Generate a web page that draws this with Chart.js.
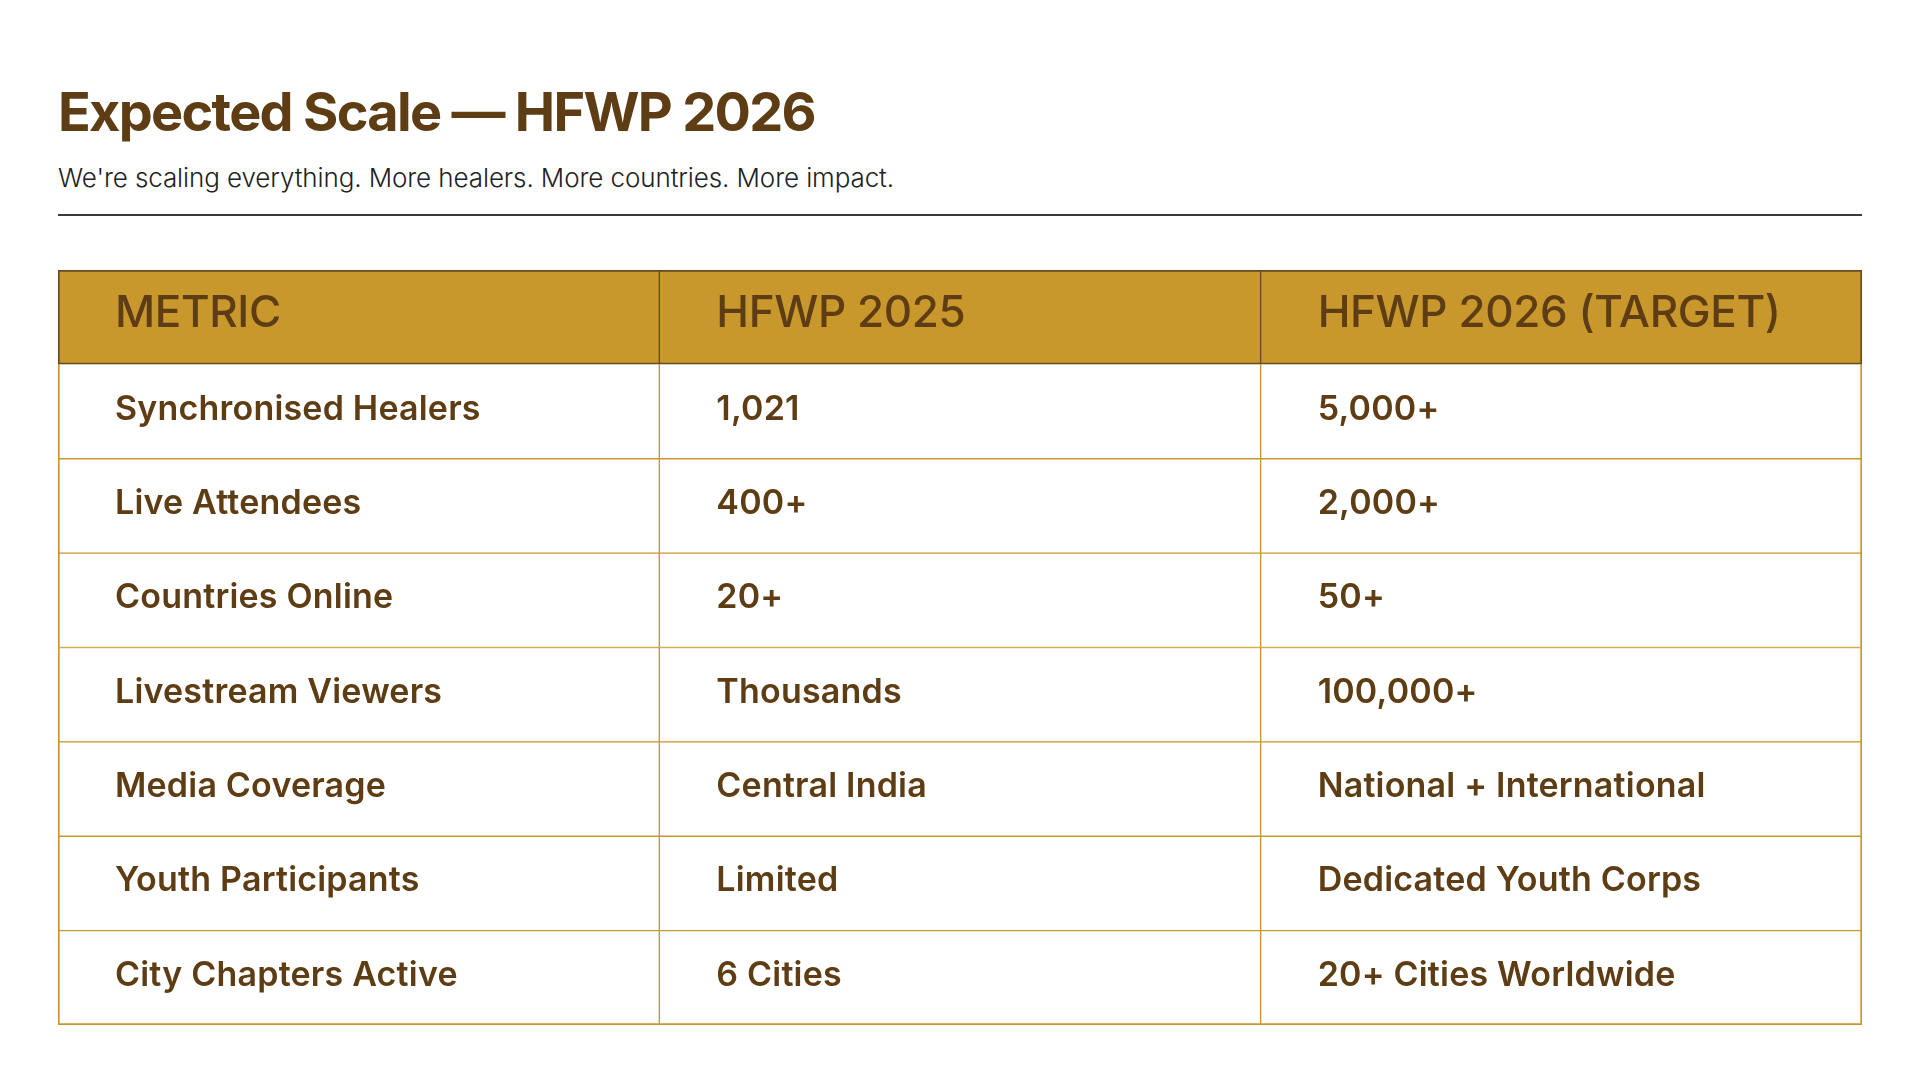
<!DOCTYPE html>
<html>
<head>
<meta charset="utf-8">
<script src="https://cdn.jsdelivr.net/npm/chart.js@4.4.1/dist/chart.umd.min.js"></script>
<style>
  html, body { margin: 0; padding: 0; background: #fff; }
  body { width: 1921px; height: 1080px; position: relative; overflow: hidden; font-family: Inter, "Noto Sans", sans-serif; }
  h1 { position: absolute; left: 58px; top: 85px; margin: 0; font-size: 54px; line-height: 54px; font-weight: 700; color: #5E3D14; letter-spacing: -1.7px; }
  .sub { position: absolute; left: 58px; top: 165px; margin: 0; font-size: 26px; line-height: 26px; font-weight: 300; color: #222; letter-spacing: -0.1px; }
  .rule { position: absolute; left: 58px; top: 214px; width: 1804px; height: 1.5px; background: #3a3a3a; }
  .wrap { position: absolute; left: 58px; top: 270px; width: 1804px; height: 755px; }
</style>
</head>
<body>
<h1>Expected Scale — HFWP 2026</h1>
<p class="sub">We're scaling everything. More healers. More countries. More impact.</p>
<div class="rule"></div>
<div class="wrap"><canvas id="scaleTable"></canvas></div>
<script>
const HEADERS = ["METRIC", "HFWP 2025", "HFWP 2026 (TARGET)"];
const METRICS = ["Synchronised Healers", "Live Attendees", "Countries Online", "Livestream Viewers", "Media Coverage", "Youth Participants", "City Chapters Active"];
const HFWP_2025 = ["1,021", "400+", "20+", "Thousands", "Central India", "Limited", "6 Cities"];
const HFWP_2026 = ["5,000+", "2,000+", "50+", "100,000+", "National + International", "Dedicated Youth Corps", "20+ Cities Worldwide"];

const GOLD = "#C8982C";
const BROWN = "#6B4A1F";
const TEXT = "#5E3D14";

// one column of cells per dataset, first row is the header
const columns = [
    [HEADERS[0], ...METRICS],
    [HEADERS[1], ...HFWP_2025],
    [HEADERS[2], ...HFWP_2026]
];
const rowLabels = columns[0];
const lastRow = rowLabels.length - 1;

function cellBorder(col, row) {
    if (row === 0) {
        return { top: 2, bottom: 2, left: col === 0 ? 2 : 1, right: col === 2 ? 2 : 1 };
    }
    return {
        top: row === 1 ? 0 : 1,
        bottom: row === lastRow ? 2 : 1,
        left: col === 0 ? 2 : 1,
        right: col === 2 ? 2 : 1
    };
}

const cellText = {
    id: 'cellText',
    afterDatasetsDraw(chart) {
        const ctx = chart.ctx;
        ctx.save();
        ctx.fillStyle = TEXT;
        ctx.textAlign = 'left';
        ctx.textBaseline = 'alphabetic';
        chart.data.datasets.forEach((ds, c) => {
            chart.getDatasetMeta(c).data.forEach((bar, r) => {
                const left = Math.min(bar.x, bar.base);
                if (r === 0) {
                    ctx.font = '500 44px Inter';
                    ctx.letterSpacing = '-0.4px';
                    ctx.fillText(ds.cells[r], left + 57, bar.y + 10);
                } else {
                    ctx.font = '600 34px Inter';
                    ctx.letterSpacing = '0.2px';
                    ctx.fillText(ds.cells[r], left + 57, bar.y + 8);
                }
            });
        });
        ctx.restore();
    }
};

new Chart(document.getElementById("scaleTable"), {
    type: 'bar',
    data: {
        labels: rowLabels,
        datasets: columns.map((cells, c) => ({
            label: HEADERS[c],
            cells: cells,
            data: cells.map(() => [c, c + 1]),
            grouped: false,
            barPercentage: 1,
            categoryPercentage: 1,
            borderSkipped: false,
            backgroundColor: cells.map((t, r) => r === 0 ? GOLD : "#ffffff"),
            borderColor: cells.map((t, r) => r === 0 ? BROWN : GOLD),
            borderWidth: cells.map((t, r) => cellBorder(c, r))
        }))
    },
    options: {
        indexAxis: 'y',
        responsive: true,
        maintainAspectRatio: false,
        animation: false,
        layout: { padding: 0 },
        scales: {
            x: { type: 'linear', min: 0, max: 3, display: false },
            y: { type: 'category', display: false }
        },
        plugins: {
            legend: { display: false },
            tooltip: { enabled: false }
        }
    },
    plugins: [cellText]
});
</script>
</body>
</html>
